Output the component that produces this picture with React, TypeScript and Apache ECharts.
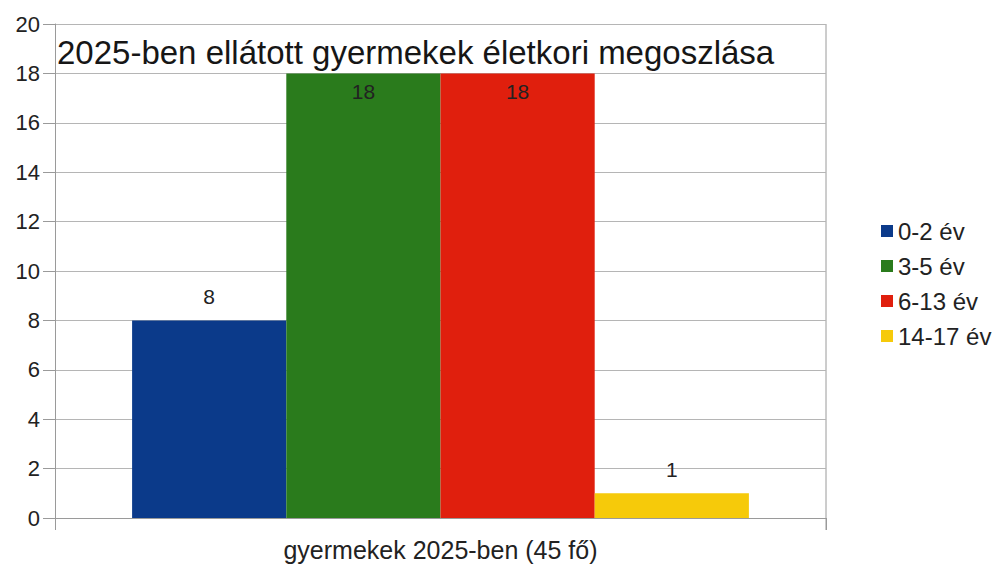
import React, { useEffect, useRef } from "react";
import * as echarts from "echarts";

const titleText = "2025-ben ellátott gyermekek életkori megoszlása";
const categories = ["gyermekek 2025-ben (45 fő)"];
const seriesNames = ["0-2 év", "3-5 év", "6-13 év", "14-17 év"];
const seriesValues = [8, 18, 18, 1];
const seriesColors = ["#0b3a8a", "#2a7b1c", "#e01f0d", "#f6ca0a"];
const yMin = 0;
const yMax = 20;
const yInterval = 2;

const FONT = "'Liberation Sans', Arial, sans-serif";

export default function App() {
  const ref = useRef<HTMLDivElement>(null);
  useEffect(() => {
    if (!ref.current) return;
    const chart = echarts.init(ref.current, null, { renderer: "svg" });
    const series = seriesNames.map((name, i) => {
      const v = seriesValues[i];
      const inside = v >= 18;
      return {
        name,
        type: "bar",
        data: [v],
        barGap: "0%",
        barCategoryGap: "20%",
        itemStyle: { color: seriesColors[i] },
        label: {
          show: true,
          position: inside ? "insideTop" : "top",
          distance: inside ? 8 : 13,
          fontSize: 21,
          fontFamily: FONT,
          color: "#222",
        },
      };
    });
    chart.setOption({
      animation: false,
      backgroundColor: "#ffffff",
      textStyle: { fontFamily: FONT },
      title: {
        text: titleText,
        left: 52,
        top: 31,
        textStyle: { fontSize: 33, fontWeight: "normal", color: "#161616", fontFamily: FONT },
      },
      legend: {
        orient: "vertical",
        left: 876,
        top: 214,
        itemWidth: 12,
        itemHeight: 12,
        itemGap: 11,
        icon: "rect",
        textStyle: { fontSize: 24, color: "#222", fontFamily: FONT },
        data: seriesNames,
      },
      grid: { left: 55, right: 172, top: 24, bottom: 46, containLabel: false },
      xAxis: {
        type: "category",
        data: categories,
        axisLine: { show: true, lineStyle: { color: "#9a9a9a", width: 1 } },
        axisTick: { show: true, length: 12, lineStyle: { color: "#9a9a9a" } },
        axisLabel: { fontSize: 25, color: "#222", margin: 19, fontFamily: FONT },
      },
      yAxis: {
        type: "value",
        min: yMin,
        max: yMax,
        interval: yInterval,
        axisLine: { show: true, lineStyle: { color: "#9a9a9a", width: 1 } },
        axisTick: { show: true, length: 12, lineStyle: { color: "#9a9a9a" } },
        axisLabel: { fontSize: 22, color: "#222", margin: 15, fontFamily: FONT },
        splitLine: { show: true, lineStyle: { color: "#b5b5b5", width: 1 } },
      },
      graphic: [
        {
          type: "line",
          shape: { x1: 826, y1: 24, x2: 826, y2: 530 },
          style: { stroke: "#9a9a9a", lineWidth: 1 },
        },
      ],
      series,
    });
    return () => chart.dispose();
  }, []);
  return (
    <div
      ref={ref}
      style={{ position: "fixed", left: 0, top: 0, width: 998, height: 564, background: "#fff" }}
    />
  );
}
